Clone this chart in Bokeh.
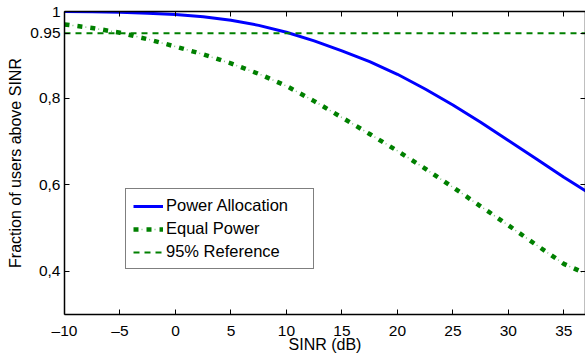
from bokeh.plotting import figure
from bokeh.models import LinearAxis, FixedTicker, Legend, LegendItem, Range1d
from bokeh.embed import file_html
from bokeh.resources import INLINE

# ---- data ----
sinr = [-10, -7.5, -5, -2.5, 0, 2.5, 5, 7.5, 10, 12.5, 15, 17.5, 20, 22.5, 25,
        27.5, 30, 32.5, 35, 37]
power_alloc = [1.0, 0.9995, 0.998, 0.996, 0.993, 0.988, 0.980, 0.968, 0.952,
               0.932, 0.909, 0.884, 0.855, 0.821, 0.784, 0.744, 0.702, 0.66,
               0.617, 0.585]
equal_power = [0.97, 0.962, 0.951, 0.936, 0.919, 0.901, 0.880, 0.856, 0.828,
               0.793, 0.755, 0.717, 0.678, 0.637, 0.594, 0.55, 0.506, 0.461,
               0.417, 0.394]
ref_level = 0.95
ref_x = [-10, 37]

x_ticks = [-10, -5, 0, 5, 10, 15, 20, 25, 30, 35]
x_tick_labels = ["\u201310", "\u20135", "0", "5", "10", "15", "20", "25", "30", "35"]
y_ticks = [0.4, 0.6, 0.8, 0.95, 1.0]
y_tick_labels = ["0,4", "0,6", "0,8", "0.95", "1"]

FONT = "Liberation Sans"

p = figure(width=585, height=356, output_backend="svg", toolbar_location=None,
           x_range=Range1d(-10, 36.95), y_range=Range1d(0.3, 1.0),
           min_border_left=64, min_border_right=0, min_border_top=11,
           min_border_bottom=42)
p.outline_line_color = None
p.xgrid.visible = False
p.ygrid.visible = False
p.background_fill_color = "white"

r_pa = p.line(sinr, power_alloc, line_color="#0000ff", line_width=3)
r_ep1 = p.line(sinr, equal_power, line_color="#008000", line_width=4.5,
               line_dash="5 8")
r_ep2 = p.line(sinr, equal_power, line_color="#7fc07f", line_width=1.5,
               line_dash="1 12", line_dash_offset=5)
r_ref = p.line(ref_x, [ref_level, ref_level], line_color="#008000",
               line_width=2, line_dash="6 5")

def style_axis(ax, labels=True):
    ax.axis_line_color = "black"
    ax.axis_line_width = 1.5
    ax.major_tick_line_color = "black"
    ax.major_tick_line_width = 1
    ax.major_tick_in = 5
    ax.major_tick_out = 0
    ax.minor_tick_line_color = None
    ax.major_label_text_font = FONT
    ax.major_label_text_color = "black"
    ax.axis_label_text_font = FONT
    ax.axis_label_text_font_style = "normal"
    ax.axis_label_text_color = "black"
    if not labels:
        ax.major_label_text_font_size = "1px"
        ax.major_label_text_color = None
        ax.major_label_standoff = 0

xa = p.xaxis[0]
xa.ticker = FixedTicker(ticks=x_ticks)
xa.major_label_overrides = {t: l for t, l in zip(x_ticks, x_tick_labels)}
style_axis(xa)
xa.major_label_text_font_size = "15.5px"
xa.major_label_standoff = 7
xa.axis_label = "SINR (dB)"
xa.axis_label_text_font_size = "16px"
xa.axis_label_standoff = -6

ya = p.yaxis[0]
ya.ticker = FixedTicker(ticks=y_ticks)
ya.major_label_overrides = {t: l for t, l in zip(y_ticks, y_tick_labels)}
style_axis(ya)
ya.major_label_text_font_size = "15.5px"
ya.major_label_standoff = 4
ya.axis_label = "Fraction of users above SINR"
ya.axis_label_text_font_size = "16px"
ya.axis_label_standoff = 3

top = LinearAxis(ticker=FixedTicker(ticks=x_ticks))
style_axis(top, labels=False)
p.add_layout(top, "above")
right = LinearAxis(ticker=FixedTicker(ticks=y_ticks))
style_axis(right, labels=False)
p.add_layout(right, "right")

legend = Legend(items=[
    LegendItem(label="Power Allocation", renderers=[r_pa]),
    LegendItem(label="Equal Power", renderers=[r_ep1, r_ep2]),
    LegendItem(label="95% Reference", renderers=[r_ref]),
], location=(61, 45))
legend.label_text_font = FONT
legend.label_text_font_size = "16.5px"
legend.label_text_color = "black"
legend.label_width = 140
legend.glyph_width = 30
legend.glyph_height = 18
legend.label_standoff = 3
legend.padding = 7
legend.spacing = 4
legend.margin = 0
legend.border_line_color = "black"
legend.border_line_width = 1.5
legend.background_fill_color = "white"
legend.background_fill_alpha = 1
p.add_layout(legend, "center")

open("out.html", "w").write(file_html(p, INLINE))
